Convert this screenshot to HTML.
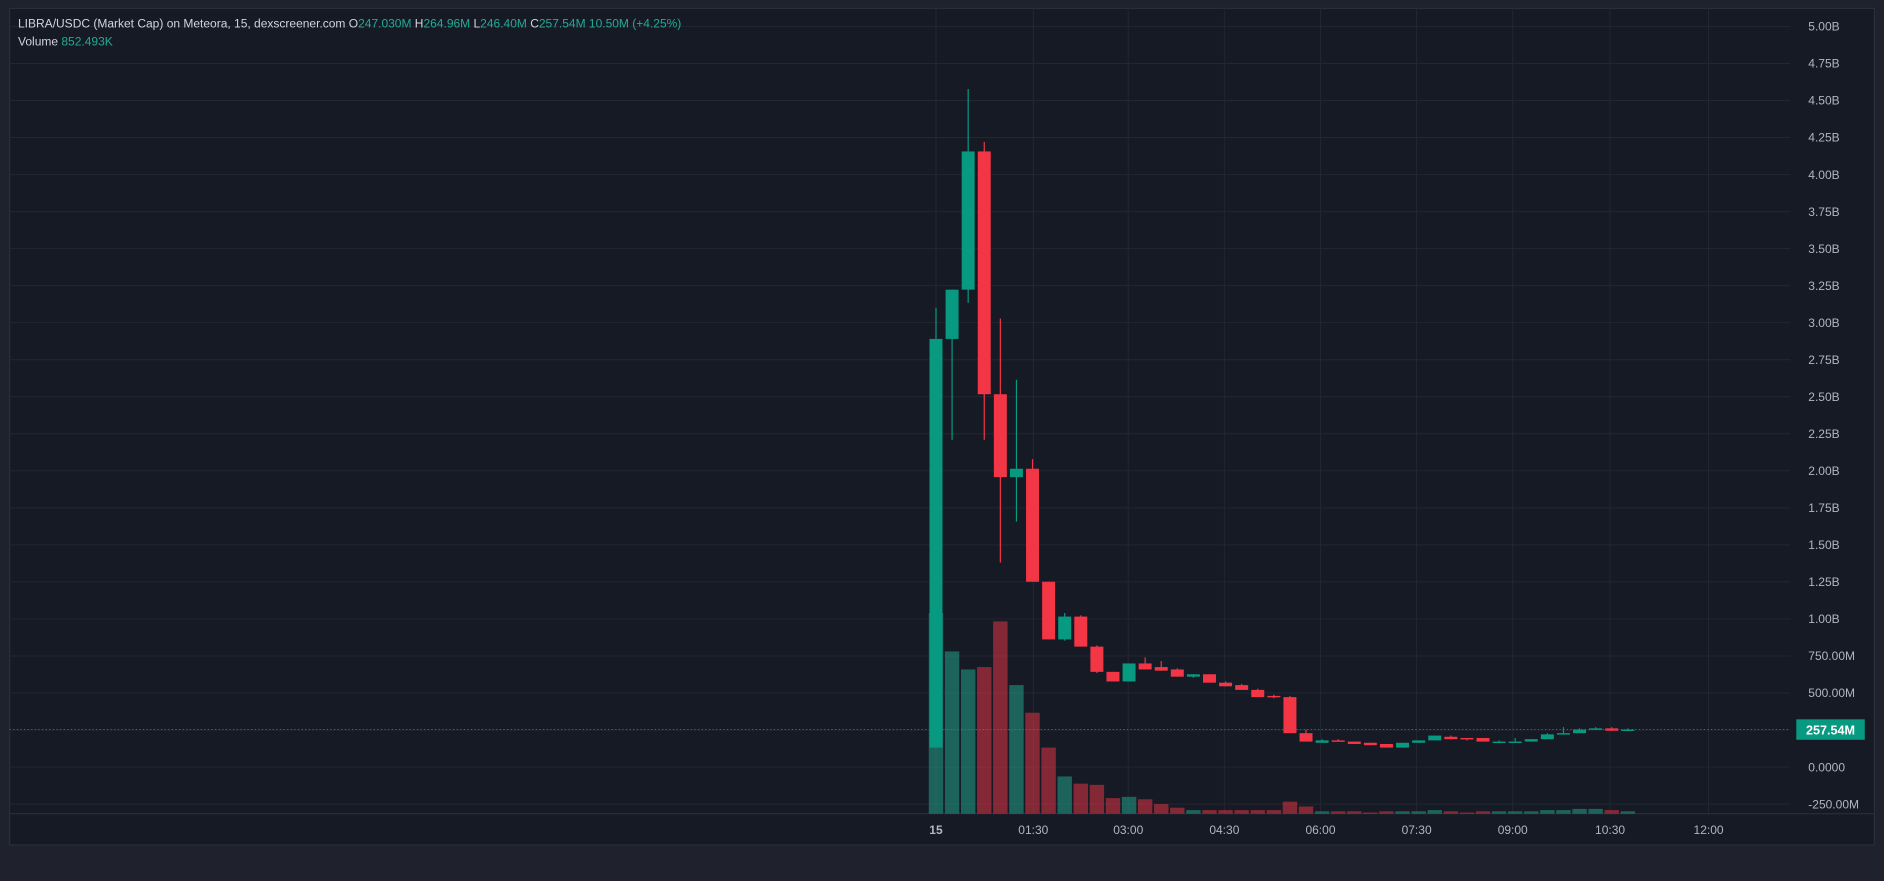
<!DOCTYPE html>
<html><head><meta charset="utf-8">
<style>
html,body{margin:0;padding:0;background:#1f222d;width:1884px;height:881px;overflow:hidden}
svg{display:block}
text{font-family:"Liberation Sans",sans-serif}
</style></head>
<body>
<svg id="s" width="1884" height="881" viewBox="0 0 1568 733" preserveAspectRatio="none" xmlns="http://www.w3.org/2000/svg">
<rect x="0" y="0" width="1568" height="733" fill="#1f222d"/>
<rect x="8" y="7" width="1552" height="696" fill="#161a25" stroke="#2a2e39" stroke-width="1"/>
<g id="grid"></g>
<line x1="8" y1="677" x2="1560" y2="677" stroke="#2a2e39" stroke-width="1"/>
<g id="vol"></g>
<g id="cdl"></g>
<line x1="8" y1="607" x2="1490" y2="607" stroke="#089981" stroke-width="0.8" stroke-dasharray="1,2"/>
<g id="ax" font-size="10" fill="#b2b5be"></g>
<rect x="1495" y="598.5" width="57" height="17" fill="#089981"/>
<text x="1523.5" y="611" font-size="10.5" fill="#fff" text-anchor="middle" font-weight="bold">257.54M</text>
<text x="15" y="23" font-size="10" fill="#d1d4dc">LIBRA/USDC (Market Cap) on Meteora, 15, dexscreener.com  O<tspan fill="#22ab94">247.030M</tspan>  H<tspan fill="#22ab94">264.96M</tspan>  L<tspan fill="#22ab94">246.40M</tspan>  C<tspan fill="#22ab94">257.54M</tspan>  <tspan fill="#22ab94">10.50M (+4.25%)</tspan></text>
<text x="15" y="38" font-size="10" fill="#d1d4dc">Volume  <tspan fill="#22ab94">852.493K</tspan></text>
<g fill="#d1d4dc"><rect x="9" y="741" width="6" height="3"/><rect x="11" y="741" width="3" height="8"/><rect x="16" y="741" width="7" height="3"/><polygon points="18,749 21,741 24,741 21,749"/></g>
<text x="27" y="749" font-size="10.5" fill="#d1d4dc">TradingView</text>
</svg>
<script>
const NS="http://www.w3.org/2000/svg";
function el(p,t,a,txt){const e=document.createElementNS(NS,t);for(const k in a)e.setAttribute(k,a[k]);if(txt)e.textContent=txt;document.getElementById(p).appendChild(e);}
const labels=["5.00B","4.75B","4.50B","4.25B","4.00B","3.75B","3.50B","3.25B","3.00B","2.75B","2.50B","2.25B","2.00B","1.75B","1.50B","1.25B","1.00B","750.00M","500.00M","","0.0000","-250.00M"];
labels.forEach((l,i)=>{const y=22+i*30.81;
 el("grid","line",{x1:8,y1:y,x2:1490,y2:y,stroke:"#232733","stroke-width":0.8});
 if(l)el("ax","text",{x:1505,y:y+3.5},l);});
const times=[["15",779],["01:30",860],["03:00",939],["04:30",1019],["06:00",1099],["07:30",1179],["09:00",1259],["10:30",1340],["12:00",1422]];
times.forEach(([t,x])=>{el("grid","line",{x1:x,y1:7,x2:x,y2:677,stroke:"#232733","stroke-width":0.8});
 el("ax","text",{x:x,y:694,"text-anchor":"middle","font-weight":t=="15"?"bold":"normal"},t);});
// [up, bodyTop, bodyBot, wickTop, wickBot, volTop]
const C=[
[1,282,622,256,622,510],[1,241,282,241,366,542],[1,126,241,74,252,557],[0,126,328,118,366,555],
[0,328,397,265,468,517],[1,390,397,316,434,570],[0,390,484,382,484,593],[0,484,532,484,532,622],
[1,513,532,510,533,646],[0,513,538,512,538,652],[0,538,559,537,560,653],[0,559,567,559,567,664],
[1,552,567,552,567,663],[0,552,557,547,557,665],[0,555,558,550,558,669],[0,557,563,556,563,672],
[1,561,563,561,564,674],[0,561,568,561,568,674],[0,568,571,567,571,674],[0,570,574,569,574,674],
[0,574,580,573,580,674],[0,579,580,578,581,674],[0,580,610,579,610,667],[0,610,617,607,617,671],
[1,616,618,615,618,675],[0,616,617,615,617,675],[0,617,619,617,619,675],[0,618,620,618,620,676],
[0,619,622,619,622,675],[1,618,622,618,622,675],[1,616,618,616,618,675],[1,612,616,612,616,674],
[0,613,615,612,615,675],[0,614,615,614,616,676],[0,614,617,614,617,675],[1,617,618,616,618,675],
[1,617,618,614,618,675],[1,615,617,615,617,675],[1,611,615,610,615,674],[1,610,611,605,611,674],
[1,607,610,606,610,673],[1,606,607,605,607,673],[0,606,608,605,608,674],[1,607,608,606,608,675]];
C.forEach((c,i)=>{const x=779+13.39*i,col=c[0]?"#089981":"#f23645",vc=c[0]?"rgba(34,171,148,0.5)":"rgba(242,54,69,0.5)";
 el("vol","rect",{x:x-6,y:c[5],width:12,height:677-c[5],fill:vc});
 el("cdl","line",{x1:x,y1:c[3],x2:x,y2:c[4],stroke:col,"stroke-width":1});
 el("cdl","rect",{x:x-5.4,y:c[1],width:10.8,height:Math.max(1.2,c[2]-c[1]),fill:col});});
</script>
</body></html>
